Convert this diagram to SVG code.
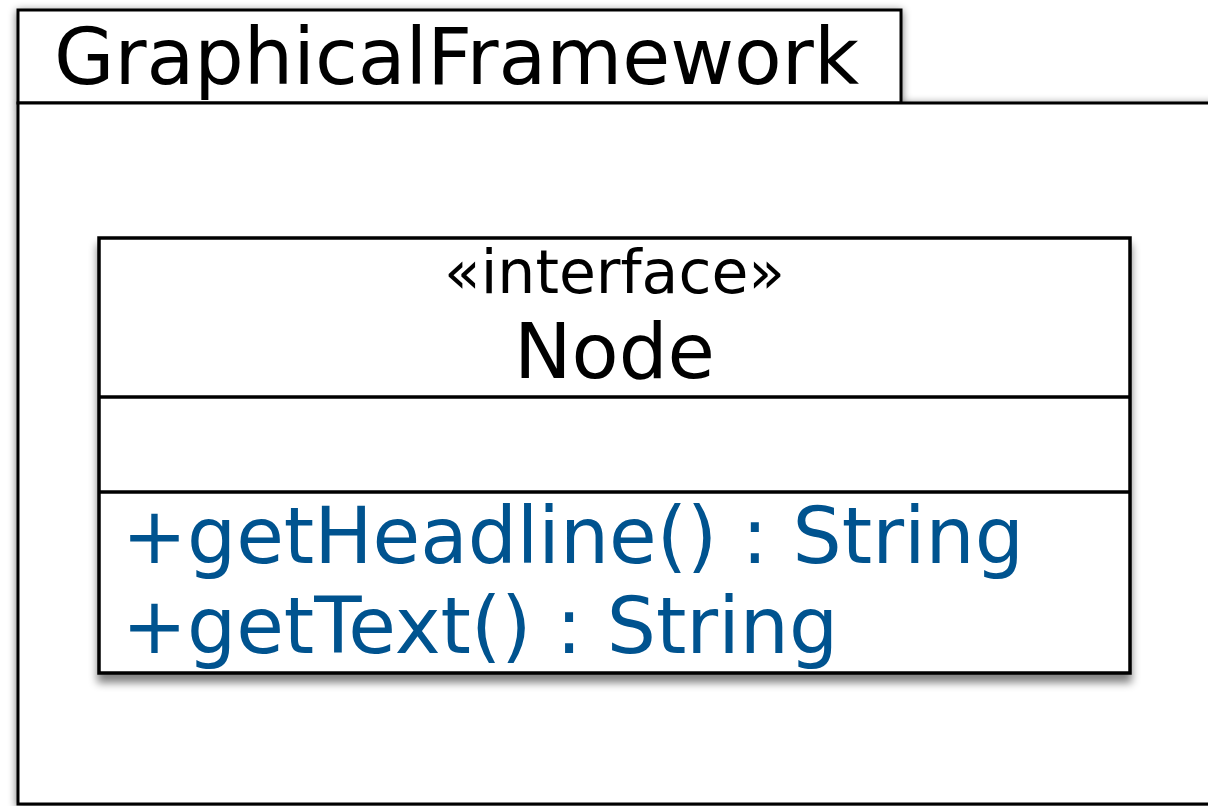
<svg xmlns="http://www.w3.org/2000/svg" width="1208" height="806" viewBox="0 0 1208 806">
  <style>
    .box { fill: #ffffff; stroke: #000000; }
    .txt { font-family: "DejaVu Sans", sans-serif; fill: #000000; }
    .op { font-family: "DejaVu Sans", sans-serif; fill: #00538f; font-size: 77.5px; }
  </style>
  <defs>
    <filter id="shadow" x="-10%" y="-10%" width="120%" height="130%">
      <feGaussianBlur in="SourceAlpha" stdDeviation="4.5"/>
      <feOffset dx="0" dy="8" result="b"/>
      <feComponentTransfer><feFuncA type="linear" slope="0.5"/></feComponentTransfer>
      <feMerge><feMergeNode/><feMergeNode in="SourceGraphic"/></feMerge>
    </filter>
    <filter id="pshadow" x="-5%" y="-5%" width="110%" height="110%">
      <feGaussianBlur in="SourceAlpha" stdDeviation="4"/>
      <feOffset dx="0" dy="2" result="b"/>
      <feComponentTransfer><feFuncA type="linear" slope="0.55"/></feComponentTransfer>
      <feMerge><feMergeNode/><feMergeNode in="SourceGraphic"/></feMerge>
    </filter>
  </defs>
  <rect width="1208" height="806" fill="#ffffff"/>
  <g id="package-GraphicalFramework">
    <g filter="url(#pshadow)">
      <rect class="box" x="18" y="10" width="883" height="93" stroke-width="3"/>
      <rect class="box" x="18" y="103" width="1230" height="701" stroke-width="3"/>
    </g>
    <text class="txt" x="54" y="84" font-size="78">GraphicalFramework</text>
  </g>
  <g id="class-Node">
    <rect class="box" x="99" y="238" width="1031" height="435" stroke-width="3.5" filter="url(#shadow)"/>
    <line x1="99" y1="397" x2="1130" y2="397" stroke="#000" stroke-width="3.5"/>
    <line x1="99" y1="492" x2="1130" y2="492" stroke="#000" stroke-width="3.5"/>
    <text class="txt" x="614.5" y="293" font-size="60" text-anchor="middle">«interface»</text>
    <text class="txt" x="614.5" y="378" font-size="77" text-anchor="middle">Node</text>
    <text class="op" x="122" y="563">+getHeadline() : String</text>
    <text class="op" x="122" y="653">+getText() : String</text>
  </g>
  <g id="connectors"/>
</svg>
